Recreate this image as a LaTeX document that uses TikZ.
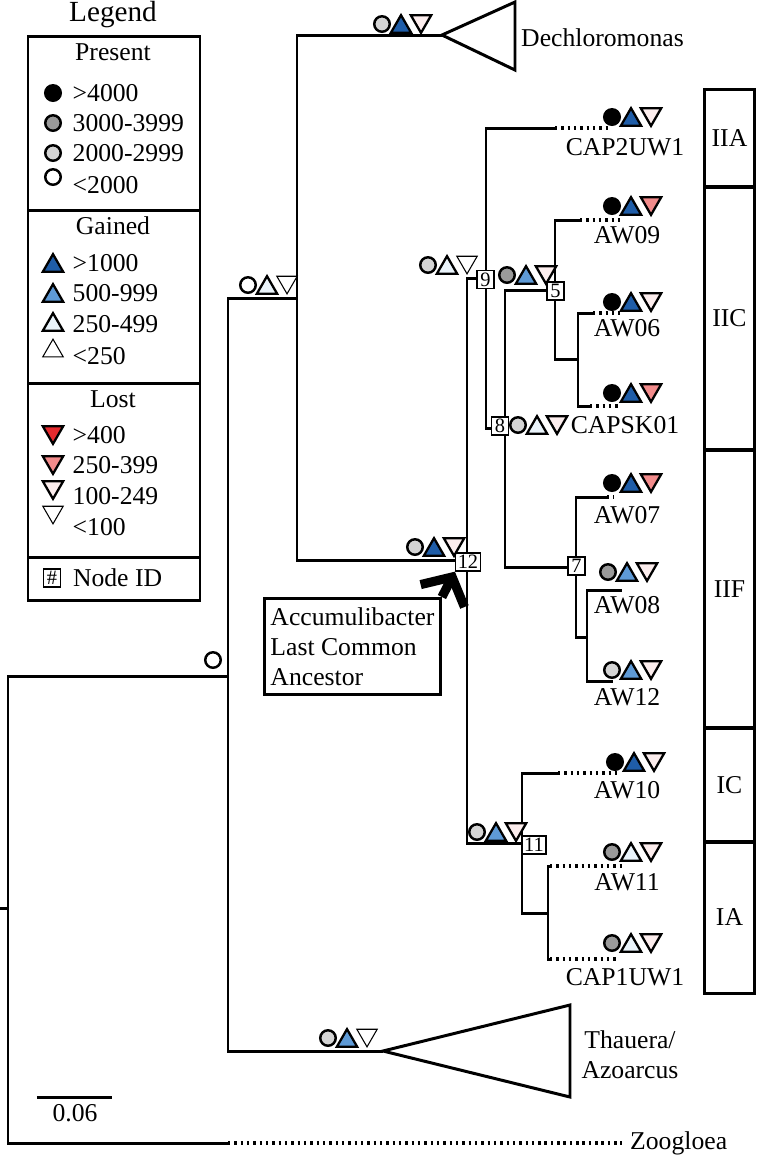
\documentclass[tikz,border=0pt]{standalone}
\usepackage{fontspec}
\setmainfont{Liberation Serif}
\usepackage{tikz}
\usetikzlibrary{positioning, shapes.geometric, arrows.meta}

\definecolor{presgray}{HTML}{9A9A9A}
\definecolor{preslight}{HTML}{D4D4D4}
\definecolor{gaindark}{HTML}{1F5DA8}
\definecolor{gainmid}{HTML}{5E9AD6}
\definecolor{gainpale}{HTML}{EAF4FB}
\definecolor{lossred}{HTML}{E52A2E}
\definecolor{losssalmon}{HTML}{F28B8B}
\definecolor{losspale}{HTML}{FCEDED}

% circle + gained + lost marks, centred on (#2,#3)
\newcommand{\genemarks}[6]{%
  \node[pres, #4] (#1c) at (#2,#3) {};
  \node[gain, #5, xshift=0.19cm, yshift=-0.029cm] (#1u) at (#2,#3) {};
  \node[loss, #6, xshift=0.39cm, yshift=0.029cm] (#1d) at (#2,#3) {};
}

\begin{document}
\begin{tikzpicture}[
    x=0.01cm, y=-0.01cm,
    every node/.style={font=\fontsize{7.3}{8.6}\selectfont, inner sep=1pt},
    branch/.style={line width=0.85pt},
    ext/.style={line width=0.9pt, dash pattern=on 0.7pt off 1.1pt},
    frame/.style={line width=0.85pt},
    pres/.style={circle, draw, line width=0.7pt, minimum size=0.155cm, inner sep=0pt},
    tri/.style={regular polygon, regular polygon sides=3, draw, line width=0.65pt, minimum size=0.235cm, inner sep=0pt},
    gain/.style={tri},
    loss/.style={tri, shape border rotate=180},
    p1/.style={fill=black}, p2/.style={fill=presgray},
    p3/.style={fill=preslight}, p4/.style={fill=white},
    g1/.style={fill=gaindark}, g2/.style={fill=gainmid},
    g3/.style={fill=gainpale}, g4/.style={fill=white, line width=0.3pt},
    l1/.style={fill=lossred}, l2/.style={fill=losssalmon},
    l3/.style={fill=losspale}, l4/.style={fill=white, line width=0.3pt},
    nid/.style={draw, fill=white, line width=0.45pt, minimum size=0.17cm, inner sep=0.6pt, font=\fontsize{5.8}{6}\selectfont},
    clade/.style={draw, line width=0.85pt, minimum width=0.49cm, inner sep=0pt},
    item/.style={anchor=west}
  ]
  \useasboundingbox (0,0) rectangle (760,1159);

  % legend
  \node (lgtitle) at (113,15) {\fontsize{8.3}{9}\selectfont Legend};
  \draw[frame] (28,36) rectangle (200,600);
  \draw[frame] (28,210) -- (200,210);
  \draw[frame] (28,383) -- (200,383);
  \draw[frame] (28,557) -- (200,557);

  \node (hpres) at (113,52) {Present};
  \node[pres, p1] (lp1) at (53,93) {};
  \node[pres, p2] (lp2) at (53,123) {};
  \node[pres, p3] (lp3) at (53,153) {};
  \node[pres, p4] (lp4) at (53,177) {};
  \node[item] (tp1) at (68.5,93) {>4000};
  \node[item] (tp2) at (68.5,123) {3000-3999};
  \node[item] (tp3) at (68.5,153) {2000-2999};
  \node[item] (tp4) at (68.5,185) {<2000};

  \node (hgain) at (113,226) {Gained};
  \node[gain, g1, yshift=-0.029cm] (lg1) at (53,263) {};
  \node[gain, g2, yshift=-0.029cm] (lg2) at (53,293) {};
  \node[gain, g3, yshift=-0.029cm] (lg3) at (53,322) {};
  \node[gain, g4, yshift=-0.029cm] (lg4) at (53,348) {};
  \node[item] (tg1) at (68.5,263) {>1000};
  \node[item] (tg2) at (68.5,293) {500-999};
  \node[item] (tg3) at (68.5,324) {250-499};
  \node[item] (tg4) at (68.5,356) {<250};

  \node (hloss) at (113,399) {Lost};
  \node[loss, l1, yshift=0.029cm] (ll1) at (53,435) {};
  \node[loss, l2, yshift=0.029cm] (ll2) at (53,465) {};
  \node[loss, l3, yshift=0.029cm] (ll3) at (53,490) {};
  \node[loss, l4, yshift=0.029cm] (ll4) at (53,515) {};
  \node[item] (tl1) at (68.5,435) {>400};
  \node[item] (tl2) at (68.5,465) {250-399};
  \node[item] (tl3) at (68.5,496) {100-249};
  \node[item] (tl4) at (68.5,527) {<100};

  \node[nid] (lid) at (52,578) {\#};
  \node[right=0.075cm of lid] (tid) {Node ID};

  % tree junctions and tips
  \coordinate (rootstem) at (0,908);
  \coordinate (root) at (8,908);
  \coordinate (nA) at (228,676);
  \coordinate (nB) at (297,298);
  \coordinate (n12) at (467,560);
  \coordinate (n9) at (486,278);
  \coordinate (n8) at (505,428);
  \coordinate (n5) at (555,290);
  \coordinate (n6) at (578,359);
  \coordinate (n7) at (576,567);
  \coordinate (n7b) at (587,637);
  \coordinate (n11) at (522,843);
  \coordinate (n11b) at (548,913);

  \coordinate (dechtip) at (442,35);
  \coordinate (thautip) at (383,1051);
  \coordinate (zoot) at (228,1143);  \coordinate (zooe) at (622,1143);
  \coordinate (cap2t) at (555,128);  \coordinate (cap2e) at (608,128);
  \coordinate (aw09t) at (580,220);  \coordinate (aw09e) at (620,220);
  \coordinate (aw06t) at (593,313);  \coordinate (aw06e) at (620,313);
  \coordinate (capskt) at (590,406); \coordinate (capske) at (620,406);
  \coordinate (aw07t) at (607,497);  \coordinate (aw07e) at (614,497);
  \coordinate (aw08t) at (622,590);
  \coordinate (aw12t) at (613,681);
  \coordinate (aw10t) at (558,773);  \coordinate (aw10e) at (620,773);
  \coordinate (aw11t) at (550,866);  \coordinate (aw11e) at (622,866);
  \coordinate (cap1t) at (550,959);  \coordinate (cap1e) at (617,959);

  % branches
  \draw[branch] (rootstem) -- (root);
  \draw[branch] (root) |- (nA);
  \draw[branch] (root) |- (zoot);
  \draw[branch] (nA) |- (nB);
  \draw[branch] (nA) |- (thautip);
  \draw[branch] (nB) |- (dechtip);
  \draw[branch] (nB) |- (n12);
  \draw[branch] (n12) |- (n9);
  \draw[branch] (n12) |- (n11);
  \draw[branch] (n9) |- (cap2t);
  \draw[branch] (n9) |- (n8);
  \draw[branch] (n8) |- (n5);
  \draw[branch] (n8) |- (n7);
  \draw[branch] (n5) |- (aw09t);
  \draw[branch] (n5) |- (n6);
  \draw[branch] (n6) |- (aw06t);
  \draw[branch] (n6) |- (capskt);
  \draw[branch] (n7) |- (aw07t);
  \draw[branch] (n7) |- (n7b);
  \draw[branch] (n7b) |- (aw08t);
  \draw[branch] (n7b) |- (aw12t);
  \draw[branch] (n11) |- (aw10t);
  \draw[branch] (n11) |- (n11b);
  \draw[branch] (n11b) |- (aw11t);
  \draw[branch] (n11b) |- (cap1t);

  \draw[ext] (zoot) -- (zooe);
  \draw[ext] (cap2t) -- (cap2e);
  \draw[ext] (aw09t) -- (aw09e);
  \draw[ext] (aw06t) -- (aw06e);
  \draw[ext] (capskt) -- (capske);
  \draw[ext] (aw07t) -- (aw07e);
  \draw[ext] (aw10t) -- (aw10e);
  \draw[ext] (aw11t) -- (aw11e);
  \draw[ext] (cap1t) -- (cap1e);

  % collapsed clades
  \draw[branch] (dechtip) -- (515,2) -- (515,70) -- cycle;
  \draw[branch] (thautip) -- (570,1005) -- (570,1097) -- cycle;
  \node[anchor=west] (dech) at (517,38) {Dechloromonas};
  \node[align=center] (thau) at (630,1055) {Thauera/\\Azoarcus};
  \node[anchor=west] (zoo) at (626,1143) {Zoogloea};

  % node IDs
  \node[nid] (id9) at (485.5,279.5) {9};
  \node[nid] (id8) at (500,426) {8};
  \node[nid] (id5) at (555.5,291) {5};
  \node[nid] (id7) at (576.5,566) {7};
  \node[nid] (id12) at (468,562) {12};
  \node[nid] (id11) at (534,845) {11};

  % gene content marks
  \node[pres, p4] (rootc) at (213,660) {};
  \genemarks{nb}{248}{285}{p4}{g3}{l4}
  \genemarks{dm}{382}{24}{p3}{g1}{l3}
  \genemarks{s12}{415}{547}{p3}{g1}{l3}
  \genemarks{s9}{428}{265}{p3}{g3}{l4}
  \genemarks{s5}{507}{275}{p2}{g2}{l3}
  \genemarks{s8}{518}{425}{p3}{g3}{l3}
  \genemarks{s11}{477}{832}{p3}{g2}{l3}
  \genemarks{ta}{328}{1038}{p3}{g2}{l4}
  \genemarks{cap2}{612}{117}{p1}{g1}{l3}
  \genemarks{aw09}{612}{206}{p1}{g1}{l2}
  \genemarks{aw06}{612}{302}{p1}{g1}{l3}
  \genemarks{capsk}{612}{393}{p1}{g1}{l2}
  \genemarks{aw07}{612}{483}{p1}{g1}{l2}
  \genemarks{aw08}{608}{572}{p2}{g2}{l3}
  \genemarks{aw12}{612}{670}{p3}{g2}{l3}
  \genemarks{aw10}{615}{762}{p1}{g1}{l3}
  \genemarks{aw11}{612}{852}{p2}{g3}{l3}
  \genemarks{cap1}{612}{943}{p2}{g3}{l3}

  % leaf names
  \node (lcap2) at (625,147) {CAP2UW1};
  \node (law09) at (627,235) {AW09};
  \node (law06) at (627,328) {AW06};
  \node (lcapsk) at (625,425) {CAPSK01};
  \node (law07) at (627,515) {AW07};
  \node (law08) at (627,605) {AW08};
  \node (law12) at (627,697) {AW12};
  \node (law10) at (627,790) {AW10};
  \node (law11) at (627,882) {AW11};
  \node (lcap1) at (625,977) {CAP1UW1};

  % clades
  \node[clade, minimum height=0.97cm] (cIIA) at (729.5,138.5) {IIA};
  \node[clade, minimum height=2.63cm] (cIIC) at (729.5,318.5) {IIC};
  \node[clade, minimum height=2.78cm] (cIIF) at (729.5,589) {IIF};
  \node[clade, minimum height=1.14cm] (cIC) at (729.5,785) {IC};
  \node[clade, minimum height=1.51cm] (cIA) at (729.5,917.5) {IA};

  % last common ancestor
  \node[draw, line width=0.85pt, align=left, anchor=north west, minimum width=1.75cm, minimum height=0.96cm, inner xsep=0.06cm] (lca) at (263,597) {Accumulibacter\\Last Common\\Ancestor};
  \draw[line width=2.6pt, -{Straight Barb[length=6pt, width=14pt]}] (lca.north east) -- (id12.south west);

  % scale
  \coordinate (sb1) at (37,1097);
  \coordinate (sb2) at (112,1097);
  \draw[branch] (sb1) -- (sb2);
  \node (sbl) at (75,1113) {0.06};
\end{tikzpicture}
\end{document}
